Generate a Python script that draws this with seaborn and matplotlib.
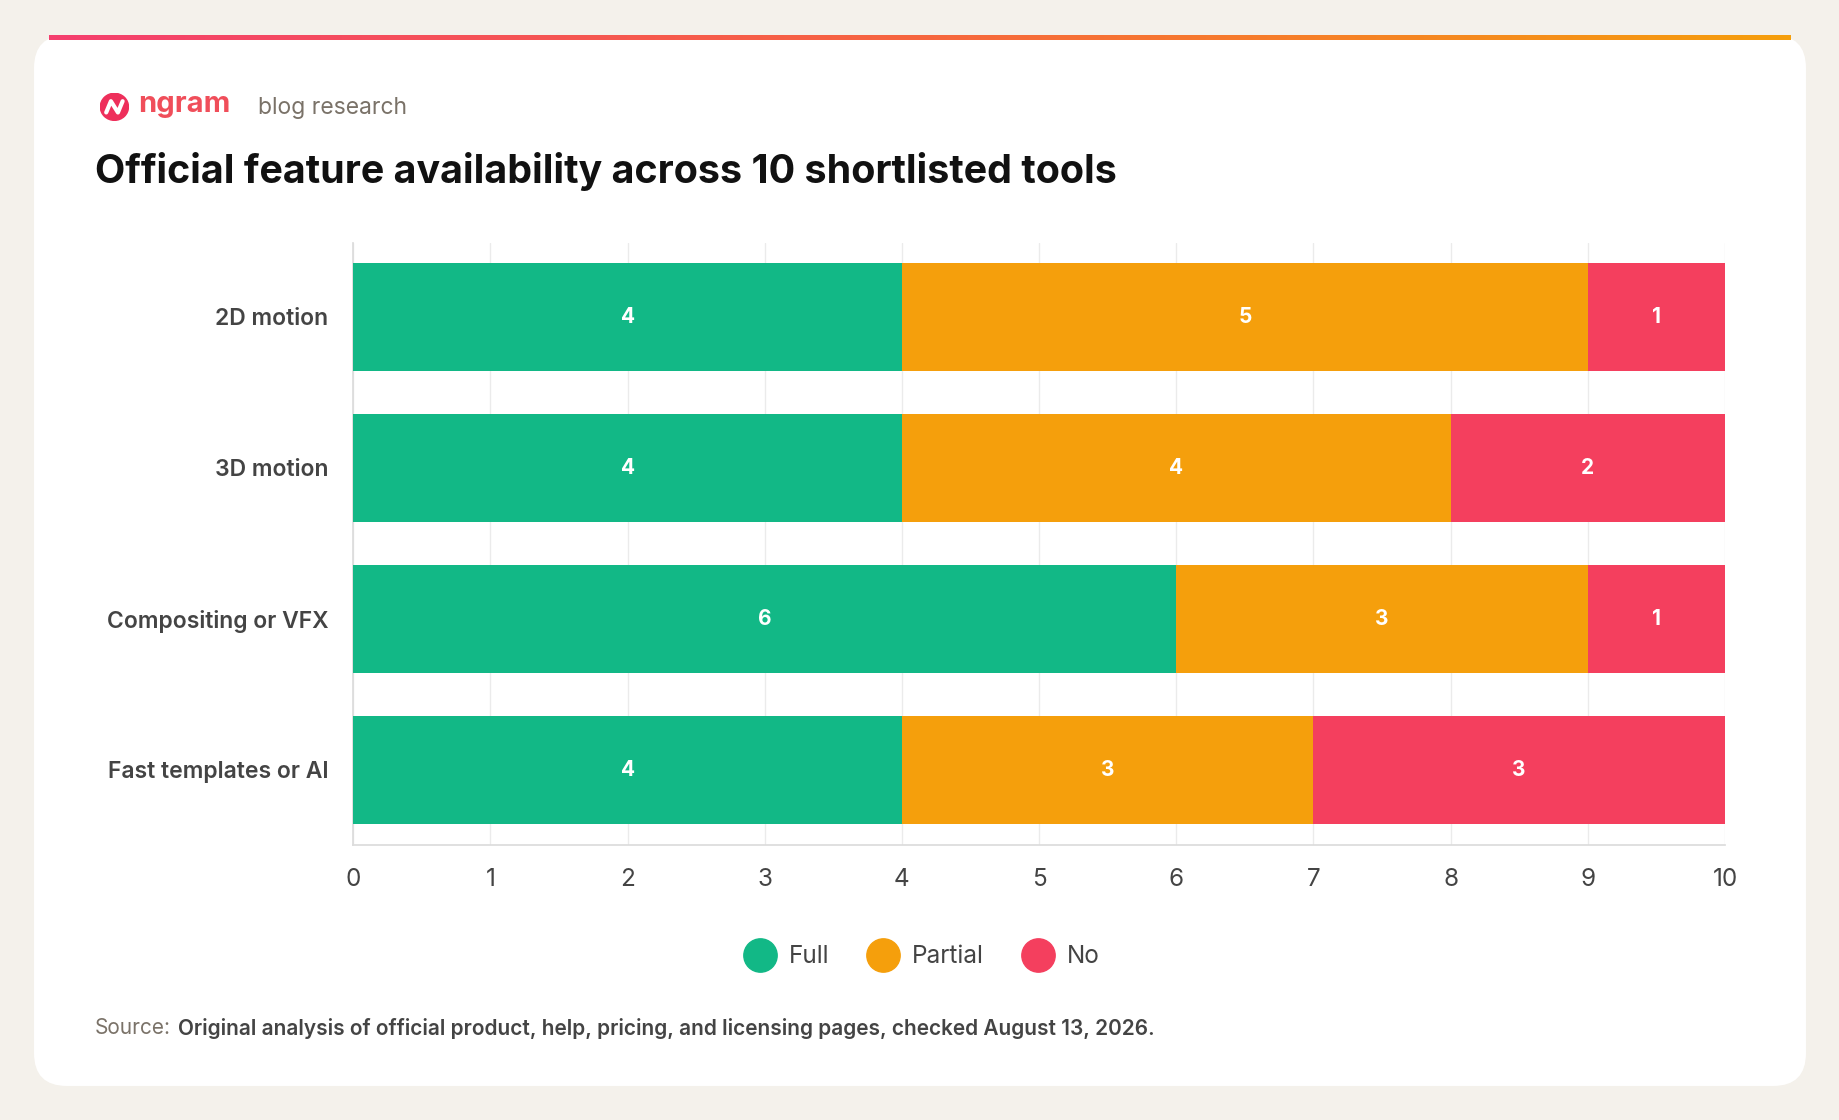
import matplotlib
matplotlib.use("Agg")
import matplotlib.pyplot as plt
import seaborn as sns
import numpy as np
import pandas as pd
from matplotlib.patches import FancyBboxPatch, Circle
from matplotlib.lines import Line2D
from matplotlib.colors import LinearSegmentedColormap

categories = ["2D motion", "3D motion", "Compositing or VFX", "Fast templates or AI"]
full = [4, 4, 6, 4]
partial = [5, 4, 3, 3]
no = [1, 2, 1, 3]
series_names = ["Full", "Partial", "No"]
colors = ["#12b886", "#f59f0c", "#f43f5e"]
xticks = list(range(0, 11))

sns.set_theme(style="white")
plt.rcParams['font.family'] = ['Inter', 'DejaVu Sans']

W, H = 1568, 954
fig = plt.figure(figsize=(18.4, 11.2), dpi=100)
fig.patch.set_facecolor("#f4f1eb")

def fx(x): return x / W
def fy(y): return 1 - y / H

# card
bg = fig.add_axes([0, 0, 1, 1], zorder=0)
bg.set_xlim(0, W); bg.set_ylim(H, 0); bg.axis("off")
bg.add_patch(FancyBboxPatch((29, 30), 1510, 895, boxstyle="round,pad=0,rounding_size=28",
                            facecolor="white", edgecolor="none"))
# gradient top bar
gax = fig.add_axes([fx(42), fy(34), fx(1526) - fx(42), fy(30) - fy(34)], zorder=1)
grad = np.linspace(0, 1, 256)[None, :]
cmap = LinearSegmentedColormap.from_list("g", ["#f43f6e", "#f7663f", "#f59f0c"])
gax.imshow(grad, aspect="auto", cmap=cmap)
gax.axis("off")

# header
fig.text(fx(81), fy(146), "Official feature availability across 10 shortlisted tools",
         fontsize=28.4, fontweight="bold", color="#111111", va="center", zorder=5)
lax = fig.add_axes([fx(85), fy(103), fx(25), fy(79) - fy(103)], zorder=2)
lax.set_xlim(0, 1); lax.set_ylim(0, 1); lax.axis("off")
lax.add_patch(Circle((0.5, 0.5), 0.48, color="#ee2f5b"))
lax.plot([0.22, 0.38, 0.62, 0.78], [0.3, 0.7, 0.3, 0.7], color="white", lw=3, solid_capstyle="round")
fig.text(fx(118), fy(89), "ngram", fontsize=21, fontweight="bold", color="#f04e5a", va="center", zorder=5)
fig.text(fx(220), fy(92), "blog research", fontsize=16.5, color="#7a7268", va="center", zorder=5)

# chart
ax = fig.add_axes([fx(301), fy(720), fx(1470) - fx(301), fy(207) - fy(720)], zorder=3)
ax.patch.set_alpha(0)
df = pd.DataFrame({"cat": categories, "Full": full, "Partial": partial, "No": no})
cum = [df["Full"] + df["Partial"] + df["No"], df["Full"] + df["Partial"], df["Full"]]
for vals, c in zip(cum, colors[::-1]):
    sns.barplot(x=vals.values, y=df["cat"], orient="h", color=c, width=0.716,
                saturation=1, ax=ax, zorder=3, linewidth=0)
ax.set_xlim(0, 10)
ax.set_ylim(3.5, -0.49)
ax.set_xticks(xticks)
ax.set_xticklabels([str(t) for t in xticks])
ax.grid(axis="x", color="#ebebeb", lw=1, zorder=0)
ax.set_axisbelow(True)
for s in ["top", "right"]:
    ax.spines[s].set_visible(False)
for s in ["left", "bottom"]:
    ax.spines[s].set_color("#dcdcdc")
ax.tick_params(axis="x", length=0, labelsize=17.5, colors="#444444", pad=16)
ax.tick_params(axis="y", length=0, labelsize=16.5, pad=18)
for lab in ax.get_yticklabels():
    lab.set_fontweight("semibold"); lab.set_color("#444444")
ax.set_xlabel(""); ax.set_ylabel("")

for i in range(len(categories)):
    left = 0
    for vals in (full, partial, no):
        v = vals[i]
        ax.text(left + v / 2, i, str(v), ha="center", va="center", color="white",
                fontsize=15, fontweight="bold", zorder=5)
        left += v

handles = [Line2D([], [], marker="o", ls="", markersize=24, color=c) for c in colors]
fig.legend(handles, series_names, loc="center", bbox_to_anchor=(fx(782), fy(815)), ncol=3,
           frameon=False, fontsize=17.5, handletextpad=0.2, columnspacing=1.2,
           labelcolor="#444444")

fig.text(fx(81), fy(876), "Source:", fontsize=15, color="#7a7268", va="center", zorder=5)
fig.text(fx(152), fy(876), "Original analysis of official product, help, pricing, and licensing pages, checked August 13, 2026.",
         fontsize=15, color="#444444", fontweight="semibold", va="center", zorder=5)

fig.savefig("out.png", dpi=100, facecolor=fig.get_facecolor())
